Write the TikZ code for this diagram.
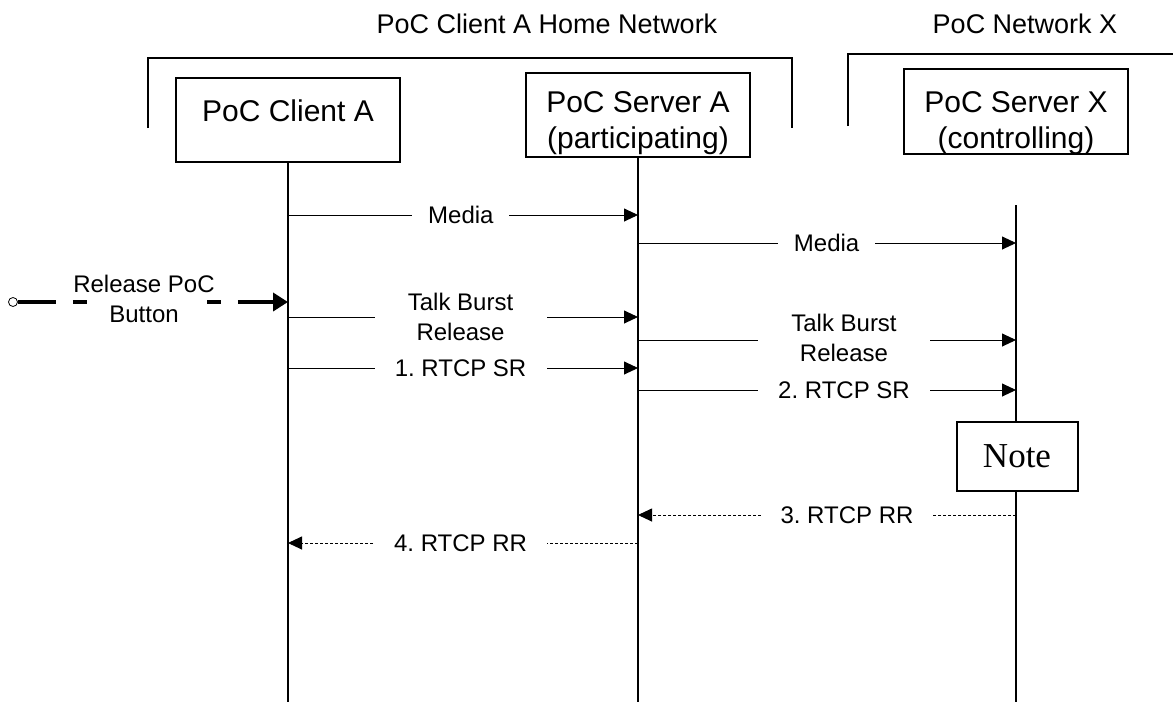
\documentclass[tikz,border=0pt]{standalone}
\usepackage{fontspec}
\setmainfont{Liberation Sans}
\newfontfamily\notefont{Liberation Serif}
\usetikzlibrary{arrows.meta}
\frenchspacing
\begin{document}
\begin{tikzpicture}[x=1pt,y=-1pt,
  box/.style={draw, line width=2pt, minimum width=224pt, minimum height=84pt, inner sep=0pt},
  boxtxt/.style={font=\fontsize{30}{36}\selectfont, anchor=base, inner sep=0pt},
  titletxt/.style={font=\fontsize{27}{32}\selectfont, inner sep=0pt},
  life/.style={line width=2pt},
  bracket/.style={line width=2pt},
  msg/.style={line width=0.9pt, -{Triangle[length=14pt,width=13pt]}},
  reply/.style={msg, dash pattern=on 3pt off 2pt},
  lbl/.style={fill=white, inner sep=0pt, align=center, font=\fontsize{24}{30}\selectfont},
]
\fill[white] (0,0) rectangle (1173,702);
\useasboundingbox (0,0) rectangle (1173,702);

% titles
\node[titletxt] (t1) at (547,24) {PoC Client A Home Network};
\node[titletxt] (t2) at (1025,24) {PoC Network X};

% brackets
\draw[bracket] (148,128) -- (148,58) -- (792,58) -- (792,128);
\draw[bracket] (848,126) -- (848,54) -- (1174,54);

% boxes
\node[box] (cA) at (288,120) {};
\node[box] (sA) at (638,115) {};
\node[box, minimum height=85pt] (sX) at (1016,111.5) {};
\node[boxtxt] (cAt) at (288,121) {PoC Client A};
\node[boxtxt] (sAt) at (638,112) {\begin{tabular}[t]{@{}c@{}}PoC Server A\\(participating)\end{tabular}};
\node[boxtxt] (sXt) at (1016,112) {\begin{tabular}[t]{@{}c@{}}PoC Server X\\(controlling)\end{tabular}};

% lifelines
\draw[life] (cA.south) -- (cA.south |- 0,702);
\draw[life] (sA.south) -- (sA.south |- 0,702);
\coordinate (xTop) at (1016,205);
\draw[life] (xTop) -- (xTop |- 0,702);

% messages
\draw[msg] (cA |- 0,215) -- node[lbl, pos=0.494, minimum width=97pt] {Media} (sA |- 0,215);
\draw[msg] (sA |- 0,243) -- node[lbl, pos=0.499, minimum width=97pt] {Media} (sX |- 0,243);

% release button
\node[circle, draw, fill=white, line width=0.8pt, minimum size=9pt, inner sep=0pt] (btn) at (13,302) {};
\draw[line width=4pt, dash pattern=on 38pt off 17pt, -{Triangle[length=15pt,width=18pt]}] (btn.east) -- (cA |- 0,302);
\fill[white] (87,294) rectangle (207,310);
\node[align=center, inner sep=0pt, font=\fontsize{24}{30}\selectfont] (rel) at (144,298.5) {Release PoC\\Button};

\draw[msg] (cA |- 0,317) -- node[lbl, pos=0.493, minimum width=172pt] {Talk Burst\\Release} (sA |- 0,317);
\draw[msg] (sA |- 0,340) -- node[lbl, pos=0.545, minimum width=172pt, yshift=2pt] {Talk Burst\\Release} (sX |- 0,340);
\draw[msg] (cA |- 0,368) -- node[lbl, pos=0.493, minimum width=172pt] {1. RTCP SR} (sA |- 0,368);
\draw[msg] (sA |- 0,390) -- node[lbl, pos=0.545, minimum width=172pt] {2. RTCP SR} (sX |- 0,390);

% note
\node[draw, fill=white, line width=2pt, minimum width=121pt, minimum height=69pt, inner sep=0pt, font=\notefont\fontsize{35}{40}\selectfont] (note) at (1017,456.5) {Note};

\draw[reply] (sX |- 0,515) -- node[lbl, pos=0.447, minimum width=172pt] {3. RTCP RR} (sA |- 0,515);
\draw[reply] (sA |- 0,543) -- node[lbl, pos=0.507, minimum width=172pt] {4. RTCP RR} (cA |- 0,543);
\end{tikzpicture}
\end{document}
